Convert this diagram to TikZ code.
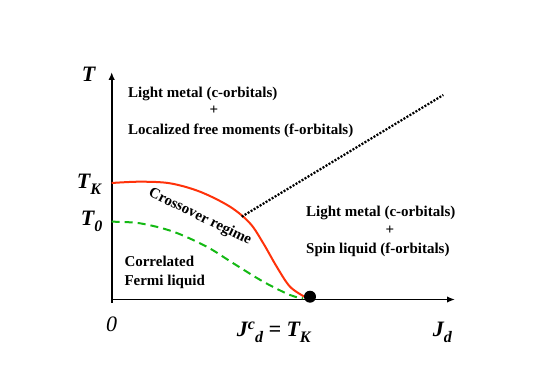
\documentclass[tikz,border=0pt]{standalone}
\usepackage{fontspec}
\setmainfont{Liberation Serif}
\usetikzlibrary{arrows.meta}
\definecolor{rouge}{RGB}{255,50,10}
\definecolor{vert}{RGB}{20,185,20}
\newcommand\bas[1]{\raisebox{-0.27em}{\fontsize{16}{16}\selectfont #1}}
\newcommand\haut[1]{\raisebox{0.3em}{\fontsize{16}{16}\selectfont #1}}

\begin{document}
\begin{tikzpicture}[x=1pt, y=-1pt,
    axe/.style={line width=1.6pt, -{Latex[length=8pt, width=6.5pt]}},
    txt/.style={font=\bfseries\fontsize{15}{18}\selectfont, inner sep=0pt, anchor=base west},
    lab/.style={font=\bfseries\itshape\fontsize{22}{26}\selectfont, inner sep=0pt, anchor=base west}]
    \useasboundingbox (0,0) rectangle (540,382);

    % --- Définition des coordonnées ---
    \coordinate (o) at (111.7,299.5);
    \coordinate (t) at (111.7,72);
    \coordinate (j) at (455,299.5);
    \coordinate (p) at (310,296.7);
    \coordinate (s) at (241.7,216.7);
    \coordinate (e) at (443.3,95);

    % --- Axes ---
    \draw [axe] (o) ++(0,3) -- (t);
    \draw [axe] (o) -- (j);

    % --- Courbes ---
    % Crossover (T_K)
    \draw [rouge, line width=2pt] plot[smooth, tension=0.55] coordinates {(111.7,183) (140,181.7) (170,183.3) (200,191.7) (230,206.7) (250,223.3) (263.3,243.3) (276.7,266.7) (290,286.7) (305,297)};
    % T_0
    \draw [vert, line width=2pt, dash pattern=on 8pt off 5pt] plot[smooth, tension=0.55] coordinates {(111.7,221.7) (140,223.3) (173.3,231.7) (206.7,246.7) (233.3,263.3) (263.3,281.7) (290,295) (303,298.3)};
    % Ligne pointillée
    \draw [line width=2.2pt, dash pattern=on 2pt off 1.5pt] (s) -- (e);
    % Point critique
    \fill (p) circle (6);

    % --- Étiquettes des axes ---
    \node[lab] (lt) at (81.7,81.7) {T};
    \node[lab] (ltk) at (76.7,188.3) {T\bas{K}};
    \node[lab] (lt0) at (80.7,225.7) {T\bas{0}};
    \node[lab, font=\itshape\fontsize{22}{26}\selectfont] (lo) at (106,331.7) {0};
    \node[lab] (ljc) at (236.7,336.5) {J\haut{c}\bas{d} = T\bas{K}};
    \node[lab] (ljd) at (432.7,336.5) {J\bas{d}};

    % --- Régions ---
    \node[txt] (h1) at (128,97.3) {Light metal (c-orbitals)};
    \node[txt, anchor=center] (h2) at (214,110.7) {+};
    \node[txt] (h3) at (128,135) {Localized free moments (f-orbitals)};
    \node[txt] (d1) at (306,216.7) {Light metal (c-orbitals)};
    \node[txt, anchor=center] (d2) at (390,230) {+};
    \node[txt] (d3) at (306,253.3) {Spin liquid (f-orbitals)};
    \node[txt] (f1) at (124.3,266.7) {Correlated};
    \node[txt] (f2) at (124.3,285) {Fermi liquid};
    \node[txt, anchor=center, rotate=-26] (cr) at (200,217) {Crossover regime};
\end{tikzpicture}
\end{document}
